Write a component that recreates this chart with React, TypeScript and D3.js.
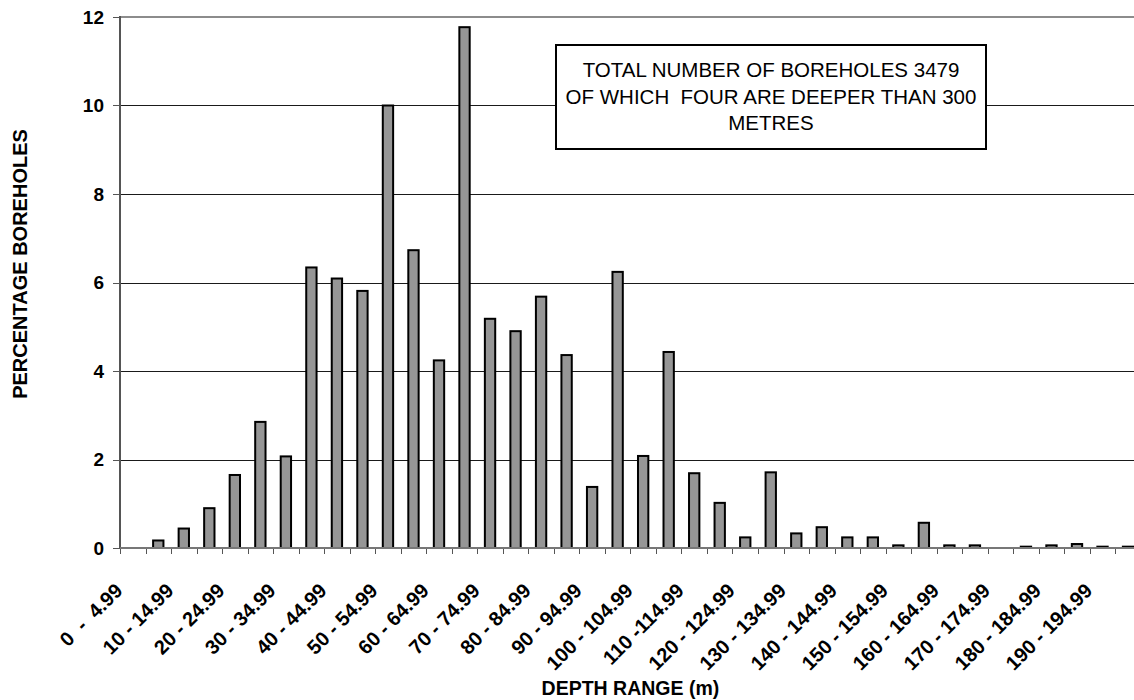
import React from "react";
import * as d3 from "d3";

const categories: string[] = [
  "0  -  4.99", "5 - 9.99", "10 - 14.99", "15 - 19.99", "20 - 24.99", "25 - 29.99",
  "30 - 34.99", "35 - 39.99", "40 - 44.99", "45 - 49.99", "50 - 54.99", "55 - 59.99",
  "60 - 64.99", "65 - 69.99", "70 - 74.99", "75 - 79.99", "80 - 84.99", "85 - 89.99",
  "90 - 94.99", "95 - 99.99", "100 - 104.99", "105 - 109.99", "110 -114.99", "115 - 119.99",
  "120 - 124.99", "125 - 129.99", "130 - 134.99", "135 - 139.99", "140 - 144.99", "145 - 149.99",
  "150 - 154.99", "155 - 159.99", "160 - 164.99", "165 - 169.99", "170 - 174.99", "175 - 179.99",
  "180 - 184.99", "185 - 189.99", "190 - 194.99", "195 - 199.99",
];

const percentages: number[] = [
  0, 0.17, 0.44, 0.9, 1.65, 2.85, 2.07, 6.34, 6.09, 5.81,
  10.0, 6.73, 4.24, 11.77, 5.18, 4.9, 5.68, 4.36, 1.38, 6.24,
  2.08, 4.43, 1.69, 1.02, 0.24, 1.71, 0.33, 0.47, 0.24, 0.24,
  0.06, 0.57, 0.06, 0.06, 0, 0.03, 0.06, 0.09, 0.03, 0.03,
];

const yTicks: number[] = [0, 2, 4, 6, 8, 10, 12];

const noteLines: string[] = [
  "TOTAL NUMBER OF BOREHOLES 3479",
  "OF WHICH  FOUR ARE DEEPER THAN 300",
  "METRES",
];

const xTitle = "DEPTH RANGE (m)";
const yTitle = "PERCENTAGE BOREHOLES";

export default function App() {
  const W = 1134;
  const H = 700;
  const left = 120;
  const step = 25.52;
  const right = left + categories.length * step;
  const top = 17;
  const bottom = 548;
  const font = "'Liberation Sans', Arial, Helvetica, sans-serif";

  const idx = categories.map((_, i) => i);
  const x = d3.scaleBand<number>().domain(idx).range([left, right]).paddingInner(0).paddingOuter(0);
  const y = d3.scaleLinear().domain([0, 12]).range([bottom, top]);
  const barW = x.step() * 0.405;

  return (
    <svg
      width={W}
      height={H}
      style={{ position: "absolute", left: 0, top: 0, background: "#fff" }}
      fontFamily={font}
    >
      <rect x={0} y={0} width={W} height={H} fill="#fff" />
      {/* gridlines */}
      {yTicks.filter((t) => t > 0 && t < 12).map((t) => (
        <line key={"g" + t} x1={left} x2={right} y1={Math.round(y(t)) + 0.5} y2={Math.round(y(t)) + 0.5} stroke="#1a1a1a" strokeWidth={1} />
      ))}
      {/* top border */}
      <line x1={left} x2={right} y1={y(12)} y2={y(12)} stroke="#8c8c8c" strokeWidth={2} />
      {/* y ticks and labels */}
      {yTicks.map((t) => (
        <g key={"y" + t}>
          <line x1={left - 7} x2={left} y1={Math.round(y(t)) + 0.5} y2={Math.round(y(t)) + 0.5} stroke="#555" strokeWidth={1} />
          <text x={104} y={y(t)} dy="0.36em" textAnchor="end" fontSize={19} fontWeight="bold" fill="#000">
            {t}
          </text>
        </g>
      ))}
      {/* x ticks */}
      {d3.range(categories.length + 1).map((i) => {
        const xx = Math.round(left + i * x.step()) + 0.5;
        return <line key={"xt" + i} x1={xx} x2={xx} y1={bottom} y2={bottom + 6} stroke="#555" strokeWidth={1} />;
      })}
      {/* bars */}
      {percentages.map((v, i) => {
        if (v <= 0) return null;
        const cx = (x(i) as number) + x.bandwidth() / 2;
        return (
          <rect
            key={"b" + i}
            x={cx - barW / 2}
            y={y(v)}
            width={barW}
            height={bottom - y(v)}
            fill="#969696"
            stroke="#000"
            strokeWidth={2}
          />
        );
      })}
      {/* axes */}
      <line x1={left} x2={left} y1={top - 1} y2={bottom + 1} stroke="#555" strokeWidth={2} />
      <line x1={left} x2={right} y1={bottom} y2={bottom} stroke="#777" strokeWidth={2} />
      {/* x labels */}
      {categories.map((c, i) => {
        if (i % 2 !== 0) return null;
        const cx = (x(i) as number) + x.bandwidth() / 2;
        return (
          <text
            key={"xl" + i}
            transform={`translate(${cx - 9},${592}) rotate(-45)`}
            textAnchor="end"
            fontSize={20}
            fontWeight="bold"
            fill="#000"
            style={{ whiteSpace: "pre" }}
          >
            {c}
          </text>
        );
      })}
      {/* note box */}
      <rect x={556} y={45} width={430} height={104} fill="#fff" stroke="#000" strokeWidth={2} />
      {noteLines.map((l, i) => (
        <text key={"n" + i} x={771} y={77 + i * 26.5} textAnchor="middle" fontSize={20.5} fill="#000" style={{ whiteSpace: "pre" }}>
          {l}
        </text>
      ))}
      {/* titles */}
      <text x={(left + right) / 2} y={695} textAnchor="middle" fontSize={19.5} fontWeight="bold" fill="#000">
        {xTitle}
      </text>
      <text transform={`translate(27,264) rotate(-90)`} textAnchor="middle" fontSize={20} fontWeight="bold" fill="#000">
        {yTitle}
      </text>
    </svg>
  );
}
